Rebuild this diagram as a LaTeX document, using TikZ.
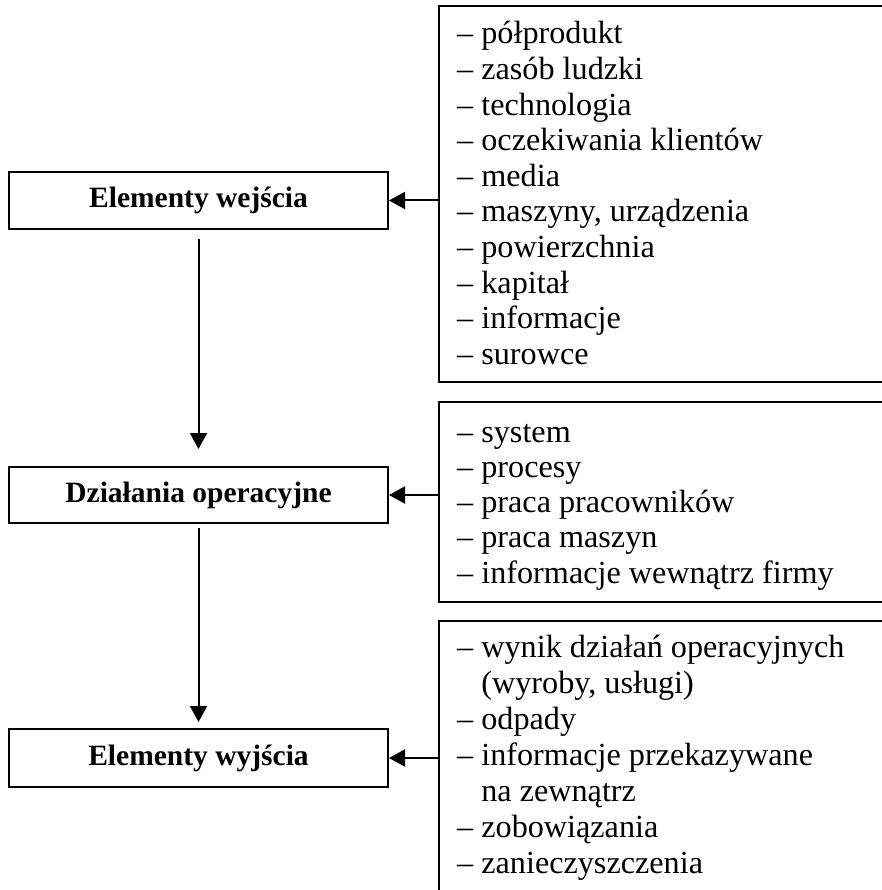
\documentclass[tikz,border=0pt]{standalone}
\usepackage{fontspec}
\setmainfont{Liberation Serif}
\usetikzlibrary{arrows.meta}
\begin{document}
\begin{tikzpicture}[x=1pt,y=-1pt,
  lbox/.style={draw, line width=2pt, minimum width=379pt, inner sep=0pt, font=\fontsize{29.5}{32}\selectfont\bfseries},
  rbox/.style={draw, line width=2pt, anchor=north west, minimum width=500pt, inner sep=0pt},
  item/.style={anchor=base west, inner sep=0pt, font=\fontsize{32.2}{35}\selectfont},
  arr/.style={line width=2pt, -{Triangle[length=16pt,width=17pt]}}]
\useasboundingbox (0,0) rectangle (881,890);
% left boxes
\node[lbox, minimum height=57pt] (b1) at (198.5,200.5) {Elementy wejścia};
\node[lbox, minimum height=56pt] (b2) at (198.5,495) {Działania operacyjne};
\node[lbox, minimum height=58pt] (b3) at (198.5,758) {Elementy wyjścia};
% right boxes
\node[rbox, minimum height=376pt] (r1) at (437.5,5) {};
\node[rbox, minimum height=200pt] (r2) at (437.5,401) {};
\node[rbox, minimum height=300pt] (r3) at (437.5,620) {};
% list texts
\foreach \t [count=\i] in {{– półprodukt},{– zasób ludzki},{– technologia},{– oczekiwania klientów},{– media},{– maszyny, urządzenia},{– powierzchnia},{– kapitał},{– informacje},{– surowce}}
  \node[item] (a\i) at (457,44+35.6*\i-35.6) {\t};
\foreach \t [count=\i] in {{– system},{– procesy},{– praca pracowników},{– praca maszyn},{– informacje wewnątrz firmy}}
  \node[item] (c\i) at (457,442+35.3*\i-35.3) {\t};
\foreach \t [count=\i] in {{– wynik działań operacyjnych},{\phantom{– }(wyroby, usługi)},{– odpady},{– informacje przekazywane},{\phantom{– }na zewnątrz},{– zobowiązania},{– zanieczyszczenia}}
  \node[item] (d\i) at (457,657+36*\i-36) {\t};
% connectors
\draw[arr, shorten <=9pt, shorten >=17pt] (b1) -- (b2);
\draw[arr, shorten <=4pt, shorten >=6pt] (b2) -- (b3);
\draw[arr] (r1.west |- b1.east) -- (b1.east);
\draw[arr] (r2.west |- b2.east) -- (b2.east);
\draw[arr] (r3.west |- b3.east) -- (b3.east);
\end{tikzpicture}
\end{document}
